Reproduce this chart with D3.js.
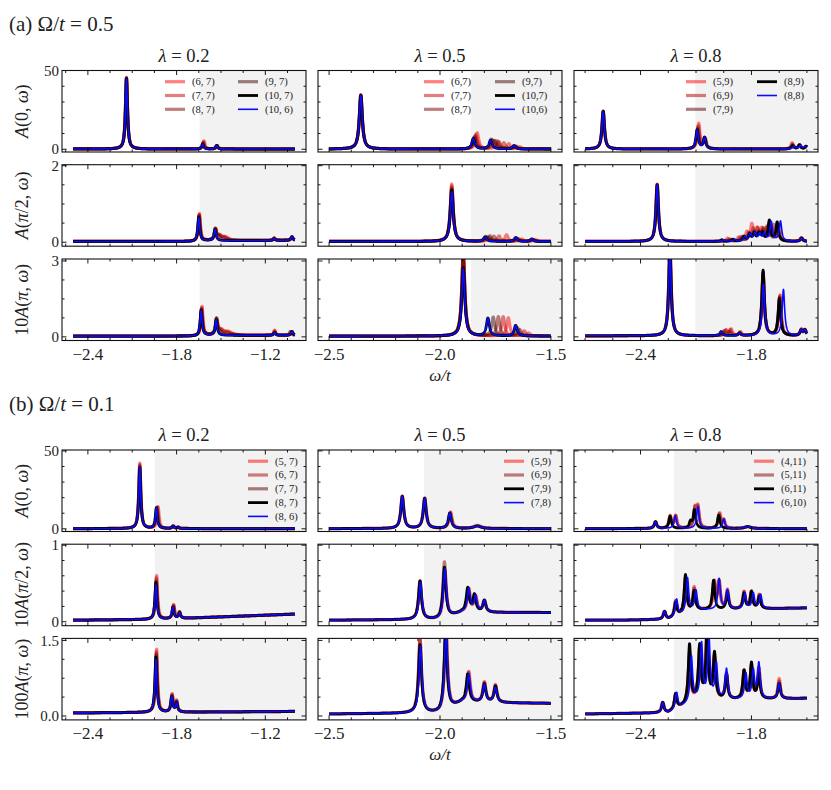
<!DOCTYPE html>
<html>
<head>
<meta charset="utf-8">
<style>
body { margin: 0; background: #fff; }
svg text { font-family: "Liberation Serif", "DejaVu Serif", serif; fill: #222; }
</style>
</head>
<body>
<script src="https://cdnjs.cloudflare.com/ajax/libs/d3/7.8.5/d3.min.js"></script>
<script>
// ---- legend labels (last two are always the black and the blue series)
var legA1 = ["(6, 7)", "(7, 7)", "(8, 7)", "(9, 7)", "(10, 7)", "(10, 6)"];
var legA2 = ["(6,7)", "(7,7)", "(8,7)", "(9,7)", "(10,7)", "(10,6)"];
var legA3 = ["(5,9)", "(6,9)", "(7,9)", "(8,9)", "(8,8)"];
var legB1 = ["(5, 7)", "(6, 7)", "(7, 7)", "(8, 7)", "(8, 6)"];
var legB2 = ["(5,9)", "(6,9)", "(7,9)", "(7,8)"];
var legB3 = ["(4,11)", "(5,11)", "(6,11)", "(6,10)"];

// ---- onset of the shaded continuum, per column
var shadeA = [-1.645, -1.86, -2.104];
var shadeB = [-1.948, -2.072, -2.22];

// ---- peaks: [omega, height, (half width)] for each series
// panel (a) Omega/t = 0.5, lambda = 0.2
var a1r1 = [
  [[-2.139, 45.5], [-1.615, 5.2], [-1.525, 2.0]],
  [[-2.139, 45.2], [-1.618, 4.6], [-1.526, 2.1]],
  [[-2.139, 45.0], [-1.620, 4.0], [-1.527, 2.2]],
  [[-2.139, 44.8], [-1.622, 3.5], [-1.528, 2.2]],
  [[-2.139, 44.6], [-1.624, 3.0], [-1.530, 2.2]],
  [[-2.139, 44.6], [-1.624, 3.0], [-1.530, 2.2]]
];
var a1r2 = [
  [[-1.645, 0.72], [-1.535, 0.25], [-1.51, 0.12, 0.02], [-1.47, 0.08, 0.025], [-1.14, 0.07], [-1.02, 0.09]],
  [[-1.647, 0.70], [-1.537, 0.26], [-1.512, 0.11, 0.02], [-1.475, 0.07, 0.025], [-1.14, 0.06], [-1.02, 0.09]],
  [[-1.648, 0.68], [-1.538, 0.27], [-1.515, 0.10, 0.02], [-1.48, 0.06, 0.025], [-1.14, 0.05], [-1.02, 0.09]],
  [[-1.649, 0.66], [-1.539, 0.28], [-1.518, 0.09, 0.02], [-1.14, 0.05], [-1.02, 0.09]],
  [[-1.650, 0.63], [-1.540, 0.29], [-1.14, 0.04], [-1.02, 0.09]],
  [[-1.650, 0.62], [-1.540, 0.29], [-1.14, 0.04], [-1.02, 0.09]]
];
var a1r3 = [
  [[-1.628, 1.15], [-1.528, 0.50], [-1.50, 0.20, 0.025], [-1.45, 0.12, 0.03], [-1.137, 0.20], [-1.03, 0.15]],
  [[-1.630, 1.10], [-1.529, 0.54], [-1.505, 0.18, 0.025], [-1.455, 0.10, 0.03], [-1.137, 0.17], [-1.03, 0.15]],
  [[-1.632, 1.06], [-1.530, 0.57], [-1.51, 0.16, 0.025], [-1.46, 0.08, 0.03], [-1.137, 0.14], [-1.02, 0.15]],
  [[-1.633, 1.03], [-1.531, 0.59], [-1.515, 0.13, 0.025], [-1.137, 0.12], [-1.02, 0.15]],
  [[-1.634, 1.00], [-1.532, 0.61], [-1.137, 0.10], [-1.02, 0.15]],
  [[-1.634, 0.99], [-1.532, 0.61], [-1.137, 0.10], [-1.02, 0.15]]
];
// panel (a), lambda = 0.5
var a2r1 = [
  [[-2.357, 34.5], [-1.832, 10.3], [-1.74, 5.0], [-1.69, 3.2], [-1.64, 1.3]],
  [[-2.357, 34.3], [-1.838, 9.2], [-1.757, 5.2], [-1.712, 3.8], [-1.655, 1.6]],
  [[-2.357, 34.1], [-1.842, 8.2], [-1.765, 5.4], [-1.734, 4.2], [-1.66, 1.8]],
  [[-2.357, 34.0], [-1.846, 7.4], [-1.769, 5.5], [-1.75, 4.5], [-1.665, 2.0]],
  [[-2.357, 34.0], [-1.850, 6.6], [-1.772, 5.6], [-1.667, 2.1]],
  [[-2.357, 34.0], [-1.850, 6.6], [-1.772, 5.6], [-1.667, 2.1]]
];
var a2r2 = [
  [[-1.947, 1.50], [-1.78, 0.10], [-1.70, 0.17], [-1.63, 0.06], [-1.57, 0.05]],
  [[-1.947, 1.45], [-1.785, 0.10], [-1.734, 0.14], [-1.645, 0.07], [-1.58, 0.05]],
  [[-1.947, 1.40], [-1.79, 0.11], [-1.757, 0.13], [-1.652, 0.08], [-1.585, 0.05]],
  [[-1.947, 1.36], [-1.795, 0.11], [-1.775, 0.13], [-1.656, 0.09], [-1.586, 0.06]],
  [[-1.947, 1.33], [-1.797, 0.11], [-1.659, 0.10], [-1.586, 0.06]],
  [[-1.947, 1.30], [-1.797, 0.11], [-1.659, 0.10], [-1.586, 0.06]]
];
var a2r3 = [
  [[-1.895, 3.4], [-1.692, 0.72], [-1.60, 0.12]],
  [[-1.895, 3.3], [-1.715, 0.76], [-1.62, 0.20]],
  [[-1.895, 3.2], [-1.737, 0.76], [-1.64, 0.25]],
  [[-1.895, 3.0], [-1.760, 0.74], [-1.65, 0.32]],
  [[-1.895, 2.7], [-1.784, 0.70], [-1.659, 0.42]],
  [[-1.895, 2.65], [-1.784, 0.70], [-1.659, 0.42]]
];
// panel (a), lambda = 0.8
var a3r1 = [
  [[-2.602, 24.0], [-2.085, 16.1], [-2.05, 6.0], [-1.58, 3.9], [-1.54, 2.5], [-1.505, 1.5]],
  [[-2.602, 24.0], [-2.088, 14.5], [-2.052, 6.5], [-1.578, 3.0], [-1.54, 2.4], [-1.505, 1.5]],
  [[-2.602, 23.9], [-2.091, 13.0], [-2.053, 7.0], [-1.577, 2.5], [-1.54, 2.4], [-1.505, 1.5]],
  [[-2.602, 23.8], [-2.094, 12.0], [-2.054, 7.1], [-1.577, 2.0], [-1.54, 2.5], [-1.504, 1.5]],
  [[-2.602, 23.8], [-2.094, 11.8], [-2.054, 7.1], [-1.570, 1.8], [-1.535, 2.2], [-1.51, 1.5]]
];
var a3r2 = [
  [[-2.31, 1.50], [-1.93, 0.08], [-1.87, 0.10], [-1.825, 0.22], [-1.798, 0.42], [-1.77, 0.30], [-1.745, 0.30], [-1.72, 0.30], [-1.69, 0.35], [-1.655, 0.30], [-1.53, 0.10]],
  [[-2.31, 1.49], [-1.92, 0.06], [-1.86, 0.10], [-1.815, 0.20], [-1.79, 0.30], [-1.765, 0.30], [-1.74, 0.25], [-1.715, 0.35], [-1.68, 0.40], [-1.65, 0.35], [-1.53, 0.09]],
  [[-2.31, 1.48], [-1.91, 0.05], [-1.85, 0.12], [-1.81, 0.18], [-1.785, 0.22], [-1.76, 0.22], [-1.735, 0.30], [-1.705, 0.45], [-1.66, 0.42], [-1.53, 0.08]],
  [[-2.31, 1.48], [-1.96, 0.04], [-1.90, 0.05], [-1.84, 0.12], [-1.81, 0.18], [-1.785, 0.20], [-1.76, 0.18], [-1.74, 0.20], [-1.703, 0.53], [-1.661, 0.49], [-1.528, 0.08]],
  [[-2.31, 1.48], [-1.95, 0.04], [-1.89, 0.05], [-1.835, 0.12], [-1.805, 0.18], [-1.78, 0.20], [-1.755, 0.18], [-1.73, 0.20], [-1.693, 0.50], [-1.643, 0.52], [-1.528, 0.08]]
];
var a3r3 = [
  [[-2.241, 3.6], [-1.937, 0.22], [-1.91, 0.25], [-1.86, 0.15], [-1.737, 2.40], [-1.645, 1.60], [-1.53, 0.25], [-1.51, 0.22]],
  [[-2.241, 3.5], [-1.94, 0.20], [-1.915, 0.22], [-1.862, 0.12], [-1.737, 2.45], [-1.647, 1.55], [-1.53, 0.22], [-1.51, 0.20]],
  [[-2.241, 3.4], [-1.95, 0.18], [-1.92, 0.15], [-1.864, 0.10], [-1.737, 2.50], [-1.648, 1.50], [-1.531, 0.20], [-1.51, 0.20]],
  [[-2.241, 3.4], [-1.964, 0.16], [-1.865, 0.10], [-1.737, 2.58], [-1.649, 1.45], [-1.531, 0.20], [-1.512, 0.22]],
  [[-2.241, 3.4], [-1.964, 0.16], [-1.865, 0.10], [-1.735, 2.03], [-1.627, 1.82], [-1.531, 0.20], [-1.512, 0.22]]
];
// panel (b) Omega/t = 0.1, lambda = 0.2
var b1r1 = [
  [[-2.049, 42.0], [-1.925, 13.9], [-1.82, 1.5], [-1.79, 0.8]],
  [[-2.049, 41.0], [-1.930, 13.6], [-1.822, 1.5], [-1.79, 0.8]],
  [[-2.049, 40.0], [-1.934, 13.4], [-1.824, 1.5], [-1.79, 0.8]],
  [[-2.049, 39.0], [-1.937, 13.2], [-1.825, 1.5], [-1.79, 0.8]],
  [[-2.049, 39.5], [-1.937, 13.2], [-1.825, 1.5], [-1.79, 0.8]]
];
var b1r2 = [
  [[-1.935, 0.57], [-1.82, 0.18], [-1.78, 0.08]],
  [[-1.937, 0.54], [-1.82, 0.17], [-1.78, 0.08]],
  [[-1.938, 0.50], [-1.822, 0.16], [-1.78, 0.08]],
  [[-1.940, 0.48], [-1.825, 0.15], [-1.78, 0.07]],
  [[-1.940, 0.45], [-1.825, 0.15], [-1.78, 0.07]]
];
var b1r3 = [
  [[-1.935, 1.25], [-1.83, 0.35], [-1.80, 0.22]],
  [[-1.937, 1.20], [-1.83, 0.33], [-1.80, 0.20]],
  [[-1.938, 1.15], [-1.832, 0.32], [-1.80, 0.20]],
  [[-1.940, 1.10], [-1.833, 0.30], [-1.80, 0.18]],
  [[-1.940, 1.05], [-1.833, 0.30], [-1.80, 0.18]]
];
// panel (b), lambda = 0.5
var b2r1 = [
  [[-2.17, 20.8], [-2.069, 19.5], [-1.952, 10.5], [-1.83, 2.0, 0.02]],
  [[-2.17, 20.6], [-2.069, 19.3], [-1.954, 10.1], [-1.832, 1.8, 0.02]],
  [[-2.17, 20.5], [-2.069, 19.2], [-1.956, 9.8], [-1.832, 1.5, 0.02]],
  [[-2.17, 20.5], [-2.069, 19.2], [-1.956, 9.8], [-1.832, 1.5, 0.02]]
];
var b2r2 = [
  [[-2.09, 0.50], [-1.978, 0.62], [-1.87, 0.30], [-1.84, 0.20], [-1.80, 0.15]],
  [[-2.09, 0.50], [-1.980, 0.73], [-1.872, 0.30], [-1.84, 0.20], [-1.80, 0.15]],
  [[-2.09, 0.50], [-1.980, 0.66], [-1.875, 0.31], [-1.845, 0.22], [-1.80, 0.15]],
  [[-2.088, 0.48], [-1.978, 0.64], [-1.87, 0.30], [-1.84, 0.20], [-1.80, 0.15]]
];
var b2r3 = [
  [[-2.09, 1.50], [-1.973, 1.62], [-1.87, 0.60], [-1.80, 0.40], [-1.75, 0.35]],
  [[-2.09, 1.45], [-1.973, 1.60], [-1.872, 0.58], [-1.80, 0.38], [-1.75, 0.33]],
  [[-2.09, 1.35], [-1.975, 1.58], [-1.875, 0.55], [-1.80, 0.36], [-1.75, 0.32]],
  [[-2.088, 1.32], [-1.973, 1.58], [-1.87, 0.55], [-1.80, 0.35], [-1.75, 0.30]]
];
// panel (b), lambda = 0.8
var b3r1 = [
  [[-2.319, 4.3], [-2.24, 7.8], [-2.21, 8.0], [-2.105, 12.0], [-2.09, 13.0], [-1.972, 9.6], [-1.95, 5.0], [-1.82, 1.2, 0.02]],
  [[-2.319, 4.3], [-2.24, 7.7], [-2.21, 7.8], [-2.106, 11.8], [-2.09, 12.5], [-1.974, 9.0], [-1.95, 5.0], [-1.82, 1.2, 0.02]],
  [[-2.319, 4.3], [-2.24, 7.7], [-2.13, 4.0], [-2.108, 11.8], [-1.977, 8.5], [-1.82, 1.2, 0.02]],
  [[-2.319, 4.3], [-2.212, 8.1], [-2.09, 14.1], [-1.95, 6.0], [-1.82, 1.2, 0.02]]
];
var b3r2 = [
  [[-2.27, 0.10], [-2.21, 0.20], [-2.155, 0.42], [-2.11, 0.30], [-2.0, 0.35], [-1.975, 0.35], [-1.93, 0.25], [-1.84, 0.22], [-1.80, 0.22], [-1.757, 0.18]],
  [[-2.27, 0.10], [-2.21, 0.20], [-2.157, 0.45], [-2.11, 0.28], [-2.003, 0.35], [-1.975, 0.35], [-1.93, 0.23], [-1.84, 0.22], [-1.80, 0.22], [-1.757, 0.18]],
  [[-2.27, 0.10], [-2.21, 0.18], [-2.157, 0.50], [-2.11, 0.25], [-2.005, 0.38], [-1.93, 0.22], [-1.84, 0.2], [-1.80, 0.22], [-1.757, 0.16]],
  [[-2.27, 0.10], [-2.205, 0.22], [-2.146, 0.45], [-2.10, 0.25], [-1.975, 0.40], [-1.93, 0.25], [-1.835, 0.2], [-1.79, 0.2], [-1.75, 0.18]]
];
var b3r3 = [
  [[-2.28, 0.20], [-2.21, 0.30], [-2.135, 0.9], [-2.08, 1.0], [-2.04, 1.55], [-2.0, 0.8], [-1.935, 0.5], [-1.84, 0.55], [-1.80, 0.6], [-1.76, 0.6], [-1.65, 0.4]],
  [[-2.28, 0.20], [-2.21, 0.30], [-2.135, 1.0], [-2.08, 1.0], [-2.04, 1.40], [-2.0, 0.85], [-1.935, 0.5], [-1.84, 0.55], [-1.80, 0.65], [-1.76, 0.6], [-1.65, 0.35]],
  [[-2.28, 0.20], [-2.21, 0.30], [-2.135, 1.15], [-2.08, 1.05], [-2.04, 1.30], [-2.0, 0.9], [-1.935, 0.5], [-1.84, 0.55], [-1.80, 0.7], [-1.76, 0.5], [-1.65, 0.3]],
  [[-2.28, 0.20], [-2.205, 0.32], [-2.125, 0.9], [-2.07, 1.10], [-2.03, 1.20], [-1.99, 0.7], [-1.935, 0.6], [-1.83, 0.5], [-1.79, 0.55], [-1.76, 0.7], [-1.65, 0.3]]
];

// ---- background levels under the peaks, constant or [omega, value] points
var bgA = [
  [0.15, 0.15, 0.15],
  [[[-2.5, 0.02], [-1.65, 0.02], [-1.6, 0.04], [-1.0, 0.05]], 0.02, 0.02],
  [[[-2.5, 0.03], [-1.65, 0.03], [-1.6, 0.06], [-1.0, 0.06]], 0.03, 0.04]
];
var bgB = [
  [0.15, 0.15, 0.15],
  [[[-2.5, 0.02], [-1.95, 0.03], [-1.0, 0.1]], [[-2.5, 0.02], [-2.0, 0.03], [-1.9, 0.12], [-1.5, 0.12]], [[-2.5, 0.02], [-2.25, 0.03], [-2.1, 0.15], [-1.5, 0.18]]],
  [[[-2.5, 0.06], [-1.0, 0.09]], [[-2.5, 0.04], [-2.0, 0.06], [-1.9, 0.27], [-1.5, 0.25]], [[-2.7, 0.04], [-2.25, 0.06], [-2.1, 0.3], [-1.5, 0.35]]]
];

// ---- axes
var xDom = [[-2.575, -0.925], [-2.55, -1.45], [-2.76, -1.44]];
var xData = [[-2.5, -1.0], [-2.5, -1.5], [-2.7, -1.5]];
var xMajor = [[-2.4, -1.8, -1.2], [-2.5, -2.0, -1.5], [-2.4, -1.8]];
var xMinor = [0.15, 0.1, 0.15];
var yDomA = [[-1.75, 50], [-0.104, 2.026], [-0.144, 3.078]];
var yDomB = [[-1.73, 50.6], [-0.052, 1.013], [-0.078, 1.54]];
var yMajorA = [[0, 50], [0, 2], [0, 3]], yMinorA = [10, 0.5, 0.75];
var yMajorB = [[0, 50], [0, 1], [0, 1.5]], yMinorB = [10, 0.2, 0.375];
var yFmtB = [d3.format("d"), d3.format("d"), d3.format(".1f")];
var lambdas = ["0.2", "0.5", "0.8"];

var colLeft = [62, 318, 574], axW = 244, axH = 81.5;
var rowTopA = [70.5, 164.7, 259], rowTopB = [450, 544.2, 638.4];
var eta = 0.008;

var svg = d3.select("body").append("svg").attr("width", 831).attr("height", 790);

function rich(sel, parts) {
  parts.forEach(function(p) {
    sel.append("tspan").attr("font-style", p[1] ? "italic" : "normal").text(p[0]);
  });
}

function spectrum(peaks, bg, w0, w1) {
  var n = 1600, xs = d3.range(n + 1).map(function(i) { return w0 + (w1 - w0) * i / n; });
  peaks.forEach(function(p) { if (p[0] > w0 && p[0] < w1) xs.push(p[0]); });
  xs.sort(d3.ascending);
  var base = typeof bg === "number" ? function() { return bg; }
    : d3.scaleLinear().domain(bg.map(function(d) { return d[0]; })).range(bg.map(function(d) { return d[1]; })).clamp(true);
  return xs.map(function(w) {
    var v = base(w);
    peaks.forEach(function(p) { var g = p[2] || eta, d = w - p[0]; v += p[1] * g * g / (d * d + g * g); });
    return [w, v];
  });
}

function seriesStyle(i, n) {
  var m = n - 2;
  if (i == n - 1) return {c: "#0a0aff", w: 1.6, o: 1};
  if (i == n - 2) return {c: "#000", w: 2.8, o: 1};
  var f = i / m;
  return {c: d3.rgb(255 * (1 - f), 0, 0).toString(), w: 3.2, o: 0.5};
}

var clipId = 0;
function subplot(left, top, col, yDom, yMajor, yMinor, yFmt, shade, data, bg, showX, showY) {
  var x = d3.scaleLinear().domain(xDom[col]).range([left, left + axW]);
  var y = d3.scaleLinear().domain(yDom).range([top + axH, top]);
  var g = svg.append("g");
  var id = "clip" + (clipId++);
  g.append("clipPath").attr("id", id).append("rect")
    .attr("x", left).attr("y", top).attr("width", axW).attr("height", axH);
  g.append("rect").attr("x", x(shade)).attr("y", top)
    .attr("width", left + axW - x(shade)).attr("height", axH).attr("fill", "#f2f2f2");
  var line = d3.line().x(function(d) { return x(d[0]); }).y(function(d) { return y(d[1]); });
  var lines = g.append("g").attr("clip-path", "url(#" + id + ")");
  data.forEach(function(peaks, i) {
    var s = seriesStyle(i, data.length);
    lines.append("path").attr("d", line(spectrum(peaks, bg, xData[col][0], xData[col][1])))
      .attr("fill", "none").attr("stroke", s.c).attr("stroke-width", s.w)
      .attr("stroke-opacity", s.o).attr("stroke-linejoin", "round");
  });
  // inward ticks on all four sides
  var tk = g.append("g").attr("stroke", "#000").attr("stroke-width", 0.9);
  function minors(dom, step) {
    return d3.range(Math.ceil(dom[0] / step - 1e-9), Math.floor(dom[1] / step + 1e-9) + 1).map(function(k) { return k * step; });
  }
  minors(xDom[col], xMinor[col]).forEach(function(v) {
    var major = xMajor[col].some(function(m) { return Math.abs(m - v) < 1e-6; });
    var L = major ? 4.5 : 2.5, px = x(v);
    tk.append("line").attr("x1", px).attr("x2", px).attr("y1", top + axH).attr("y2", top + axH - L);
    tk.append("line").attr("x1", px).attr("x2", px).attr("y1", top).attr("y2", top + L);
  });
  minors(yDom, yMinor).forEach(function(v) {
    var major = yMajor.some(function(m) { return Math.abs(m - v) < 1e-6; });
    var L = major ? 4.5 : 2.5, py = y(v);
    tk.append("line").attr("y1", py).attr("y2", py).attr("x1", left).attr("x2", left + L);
    tk.append("line").attr("y1", py).attr("y2", py).attr("x1", left + axW).attr("x2", left + axW - L);
  });
  g.append("rect").attr("x", left).attr("y", top).attr("width", axW).attr("height", axH)
    .attr("fill", "none").attr("stroke", "#111").attr("stroke-width", 1.1);
  if (showY) {
    yMajor.forEach(function(v) {
      g.append("text").attr("x", left - 3).attr("y", y(v)).attr("dy", "0.34em").attr("text-anchor", "end")
        .attr("font-size", 15).text(yFmt(v));
    });
  }
  if (showX) {
    xMajor[col].forEach(function(v) {
      g.append("text").attr("x", x(v)).attr("y", top + axH + 19.5).attr("text-anchor", "middle")
        .attr("font-size", 17).text(d3.format(".1f")(v).replace("-", "\u2212"));
    });
  }
}

function legend(left, top, labels, offX, colW, nrow) {
  var g = svg.append("g");
  labels.forEach(function(lab, i) {
    var s = seriesStyle(i, labels.length);
    var cx = left + offX + Math.floor(i / nrow) * colW, cy = top + 11.2 + (i % nrow) * 13.8;
    g.append("line").attr("x1", cx).attr("x2", cx + 20).attr("y1", cy).attr("y2", cy)
      .attr("stroke", s.c).attr("stroke-width", s.w).attr("stroke-opacity", s.o);
    g.append("text").attr("x", cx + 27).attr("y", cy + 3.4).attr("font-size", 10.5)
      .attr("fill", "#333").text(lab);
  });
}

function panel(title, rowTop, grid, bgs, shades, yDoms, yMajors, yMinors, yFmts, yLabels, legends, legLayout) {
  var t = svg.append("text").attr("x", 9).attr("y", rowTop[0] - 39.5).attr("font-size", 21);
  rich(t, title);
  for (var c = 0; c < 3; c++) {
    var tt = svg.append("text").attr("x", colLeft[c] + axW / 2).attr("y", rowTop[0] - 8.7)
      .attr("text-anchor", "middle").attr("font-size", 18.5);
    rich(tt, [["\u03bb", 1], [" = " + lambdas[c], 0]]);
    for (var r = 0; r < 3; r++) {
      subplot(colLeft[c], rowTop[r], c, yDoms[r], yMajors[r], yMinors[r], yFmts[r], shades[c],
        grid[r][c], bgs[r][c], r == 2, c == 0);
    }
    legend(colLeft[c], rowTop[0], legends[c], legLayout[c][0], legLayout[c][1], legLayout[c][2]);
  }
  for (var r2 = 0; r2 < 3; r2++) {
    var cy = rowTop[r2] + axH / 2;
    var yl = svg.append("text").attr("transform", "translate(28," + cy + ") rotate(-90)")
      .attr("text-anchor", "middle").attr("font-size", 18);
    rich(yl, yLabels[r2]);
  }
  var xl = svg.append("text").attr("x", colLeft[1] + axW / 2).attr("y", rowTop[2] + axH + 40)
    .attr("text-anchor", "middle").attr("font-size", 17);
  rich(xl, [["\u03c9/t", 1]]);
}

var intFmt = d3.format("d");
panel([["(a) \u03a9/", 0], ["t", 1], [" = 0.5", 0]], rowTopA,
  [[a1r1, a2r1, a3r1], [a1r2, a2r2, a3r2], [a1r3, a2r3, a3r3]], bgA, shadeA,
  yDomA, yMajorA, yMinorA, [intFmt, intFmt, intFmt],
  [[["A", 1], ["(0, ", 0], ["\u03c9", 1], [")", 0]],
   [["A", 1], ["(", 0], ["\u03c0", 1], ["/2, ", 0], ["\u03c9", 1], [")", 0]],
   [["10", 0], ["A", 1], ["(", 0], ["\u03c0", 1], [", ", 0], ["\u03c9", 1], [")", 0]]],
  [legA1, legA2, legA3], [[103, 73, 3], [106, 71, 3], [112, 71, 3]]);
panel([["(b) \u03a9/", 0], ["t", 1], [" = 0.1", 0]], rowTopB,
  [[b1r1, b2r1, b3r1], [b1r2, b2r2, b3r2], [b1r3, b2r3, b3r3]], bgB, shadeB,
  yDomB, yMajorB, yMinorB, yFmtB,
  [[["A", 1], ["(0, ", 0], ["\u03c9", 1], [")", 0]],
   [["10", 0], ["A", 1], ["(", 0], ["\u03c0", 1], ["/2, ", 0], ["\u03c9", 1], [")", 0]],
   [["100", 0], ["A", 1], ["(", 0], ["\u03c0", 1], [", ", 0], ["\u03c9", 1], [")", 0]]],
  [legB1, legB2, legB3], [[186, 0, 5], [186, 0, 4], [180, 0, 4]]);
</script>
</body>
</html>
